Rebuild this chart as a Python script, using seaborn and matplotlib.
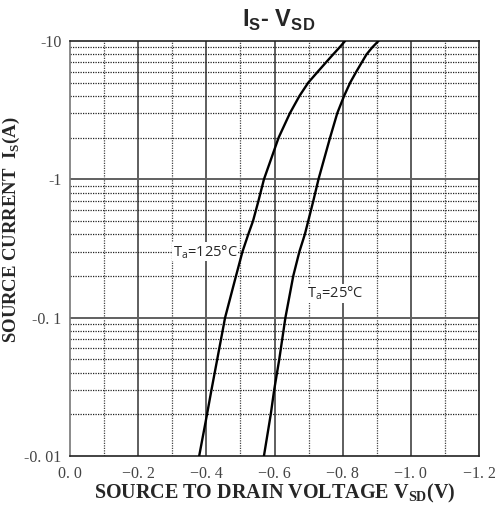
import numpy as np
import pandas as pd
import matplotlib
matplotlib.use("Agg")
import matplotlib.pyplot as plt
import seaborn as sns
from matplotlib.ticker import FixedLocator, NullFormatter

# Forward diode curves (|V_SD| in volts, |I_S| in amps)
v_125 = [0.379, 0.402, 0.415, 0.432, 0.455, 0.487, 0.506, 0.523, 0.537, 0.553, 0.569,
         0.612, 0.645, 0.673, 0.699, 0.727, 0.751, 0.772, 0.791, 0.807]
i_125 = [0.01, 0.02, 0.03, 0.05, 0.1, 0.2, 0.3, 0.4, 0.5, 0.7, 1.0,
         2.0, 3.0, 4.0, 5.0, 6.0, 7.0, 8.0, 9.0, 10.0]
v_25 = [0.569, 0.589, 0.599, 0.614, 0.632, 0.655, 0.673, 0.689, 0.699, 0.714, 0.729,
        0.763, 0.784, 0.804, 0.822, 0.840, 0.856, 0.870, 0.887, 0.905]
i_25 = [0.01, 0.02, 0.03, 0.05, 0.1, 0.2, 0.3, 0.4, 0.5, 0.7, 1.0,
        2.0, 3.0, 4.0, 5.0, 6.0, 7.0, 8.0, 9.0, 10.0]

x_ticks = [0.0, 0.2, 0.4, 0.6, 0.8, 1.0, 1.2]
x_labels = ["0. 0", "\u22120. 2", "\u22120. 4", "\u22120. 6", "\u22120. 8", "\u22121. 0", "\u22121. 2"]
y_ticks = [0.01, 0.1, 1, 10]
y_labels = ["-0. 01", "-0. 1", "-1", "-10"]

df = pd.concat([
    pd.DataFrame({"v": v_125, "i": i_125, "temp": "125"}),
    pd.DataFrame({"v": v_25, "i": i_25, "temp": "25"}),
])

sns.set_theme(style="white")
plt.rcParams["mathtext.fontset"] = "custom"
plt.rcParams["mathtext.rm"] = "Liberation Sans:bold"
plt.rcParams["mathtext.bf"] = "Liberation Serif:bold"
plt.rcParams["mathtext.sf"] = "Open Sans"

fig = plt.figure(figsize=(4.97, 5.11), dpi=100)
ax = fig.add_axes([70 / 497, 1 - 456 / 511, 409 / 497, 415 / 511])

sns.lineplot(data=df, x="v", y="i", hue="temp", units="temp", estimator=None,
             sort=False, palette={"125": "black", "25": "black"},
             linewidth=1.7, legend=False, ax=ax, zorder=4)

ax.set_yscale("log")
ax.set_xlim(0, 1.2)
ax.set_ylim(0.01, 10)

# grid: solid majors, dotted minors
minor_x = [0.1, 0.3, 0.5, 0.7, 0.9, 1.1]
minor_y = [m * 10.0 ** e for e in (-2, -1, 0) for m in range(2, 10)]
ax.xaxis.set_major_locator(FixedLocator(x_ticks))
ax.xaxis.set_minor_locator(FixedLocator(minor_x))
ax.yaxis.set_major_locator(FixedLocator(y_ticks))
ax.yaxis.set_minor_locator(FixedLocator(minor_y))
ax.yaxis.set_minor_formatter(NullFormatter())
ax.grid(False)
for xv in x_ticks[1:-1]:
    ax.axvline(xv, color="#333333", lw=1.1, zorder=0.5)
for xv in minor_x:
    ax.axvline(xv, color="#444444", lw=0.9, ls=(0, (1, 1)), zorder=0.5)
for yv in [0.1, 1]:
    ax.axhline(yv, color="#606060", lw=1.4, zorder=0.5)
for yv in minor_y:
    ax.axhline(yv, color="#222222", lw=0.9, ls=(0, (1, 1)), zorder=0.5)

ax.set_xticklabels(x_labels, fontfamily="Liberation Serif", fontsize=11.5, color="#444444")
ax.set_yticklabels(y_labels, fontfamily="Liberation Serif", fontsize=11.5, color="#444444")
ax.tick_params(axis="both", which="both", length=0)
ax.tick_params(axis="y", pad=6)
ax.tick_params(axis="x", pad=7)

for s in ax.spines.values():
    s.set_color("#222222")
    s.set_linewidth(1.2)
ax.spines["left"].set_color("#777777")

ax.set_xlabel(r"SOURCE TO DRAIN VOLTAGE V$_\mathbf{SD}$(V)",
              fontfamily="Liberation Serif", fontweight="bold", fontsize=14.5)
ax.xaxis.set_label_coords(0.5, -0.063)
ax.set_ylabel(r"SOURCE CURRENT  I$_\mathbf{S}$(A)",
              fontfamily="Liberation Serif", fontweight="bold", fontsize=13.5)
ax.yaxis.set_label_coords(-0.117, 0.545)

fig.text(0.561, 0.960, r"I$_\mathrm{S}$- V$_\mathrm{SD}$", ha="center", va="center",
         fontfamily="Liberation Sans", fontweight="bold", fontsize=17)

box = dict(facecolor="white", edgecolor="none", pad=0.5)
ax.text(0.302, 0.30, r"T$_\mathsf{a}$=125°C", fontfamily="Open Sans", fontsize=10.5,
        ha="left", va="center", bbox=box, zorder=3)
ax.text(0.696, 0.150, r"T$_\mathsf{a}$=25°C", fontfamily="Open Sans", fontsize=10.5,
        ha="left", va="center", bbox=box, zorder=3)

fig.savefig("out.png", dpi=100)
